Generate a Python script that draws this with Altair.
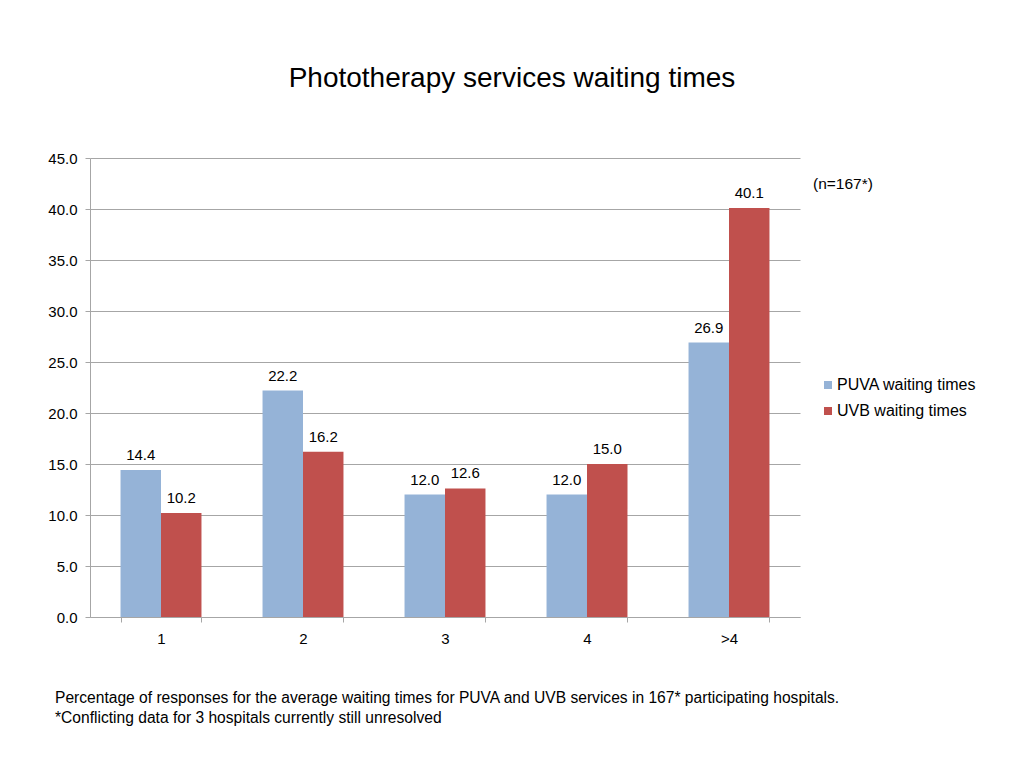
import altair as alt
import pandas as pd

categories = ["1", "2", "3", "4", ">4"]
puva = [14.4, 22.2, 12.0, 12.0, 26.9]
uvb = [10.2, 16.2, 12.6, 15.0, 40.1]
series = ["PUVA waiting times", "UVB waiting times"]
colors = ["#95B3D7", "#C0504D"]
y_ticks = [0, 5, 10, 15, 20, 25, 30, 35, 40, 45]

rows = []
for c, p, u in zip(categories, puva, uvb):
    rows.append({"cat": c, "series": series[0], "value": p})
    rows.append({"cat": c, "series": series[1], "value": u})
df = pd.DataFrame(rows)

FONT = "Liberation Sans"

x = alt.X("cat:N", sort=categories, title=None,
          scale=alt.Scale(paddingInner=0.43, paddingOuter=0.215),
          axis=alt.Axis(labelAngle=0, labelFontSize=15, labelColor="#000000",
                        labelFont=FONT, domainColor="#A6A6A6", tickColor="#A6A6A6",
                        tickBand="extent", tickSize=5, labelPadding=9, grid=False))
y = alt.Y("value:Q", title=None,
          scale=alt.Scale(domain=[0, 45], nice=False),
          axis=alt.Axis(values=y_ticks, format=".1f", labelFontSize=15,
                        labelColor="#000000", labelFont=FONT, domainColor="#A6A6A6",
                        tickColor="#A6A6A6", tickSize=5, labelPadding=8,
                        gridColor="#A6A6A6", gridWidth=1))
color = alt.Color("series:N", sort=series,
                  scale=alt.Scale(domain=series, range=colors),
                  legend=alt.Legend(title=None, orient="none", legendX=730, legendY=219,
                                    symbolType="square", symbolSize=64,
                                    symbolStrokeWidth=0, labelFontSize=16,
                                    labelFont=FONT, labelColor="#000000",
                                    rowPadding=10, labelOffset=1))

bars = alt.Chart(df).mark_bar().encode(
    x=x, y=y, color=color, xOffset=alt.XOffset("series:N", sort=series)
)
labels = alt.Chart(df).mark_text(dy=-15, fontSize=15, font=FONT, color="#000000").encode(
    x=alt.X("cat:N", sort=categories),
    y="value:Q",
    xOffset=alt.XOffset("series:N", sort=series),
    text=alt.Text("value:Q", format=".1f"),
)

ann = pd.DataFrame({"t": ["(n=167*)"]})
note = alt.Chart(ann).mark_text(align="left", baseline="middle", fontSize=15.5,
                                font=FONT, color="#000000").encode(
    x=alt.value(723), y=alt.value(26), text="t:N")

foot = pd.DataFrame({"t": ["Percentage of responses for the average waiting times for PUVA and UVB services in 167* participating hospitals."],
                     "t2": ["*Conflicting data for 3 hospitals currently still unresolved"]})
foot1 = alt.Chart(foot).mark_text(align="left", baseline="middle", fontSize=15.6,
                                  font=FONT, color="#000000").encode(
    x=alt.value(-35), y=alt.value(540), text="t:N")
foot2 = alt.Chart(foot).mark_text(align="left", baseline="middle", fontSize=15.6,
                                  font=FONT, color="#000000").encode(
    x=alt.value(-35), y=alt.value(560), text="t2:N")

chart = alt.layer(bars, labels, note, foot1, foot2).properties(
    width=710, height=459,
    title=alt.TitleParams("Phototherapy services waiting times", fontSize=28,
                          font=FONT, fontWeight="normal", color="#000000",
                          anchor="middle", dx=67, offset=58),
    autosize=alt.AutoSizeParams(type="none"),
    padding={"left": 82, "top": 150, "right": 200, "bottom": 130},
).configure_view(stroke=None)

chart.save("out.html", embed_options={"renderer": "svg", "actions": False})
